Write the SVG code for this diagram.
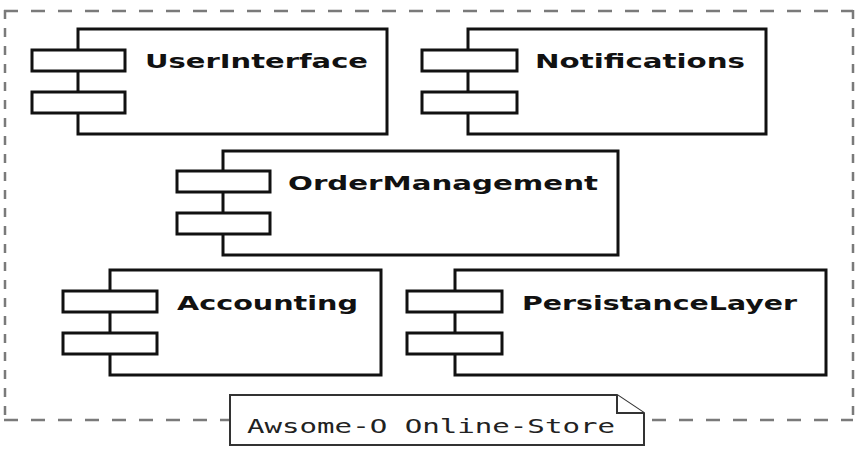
<svg xmlns="http://www.w3.org/2000/svg" width="862" height="464" viewBox="0 0 862 464">
<style>
.body{fill:#fff;stroke:#111;stroke-width:3}
.port{fill:#fff;stroke:#111;stroke-width:3}
.lbl{font-family:"DejaVu Sans",sans-serif;font-weight:bold;font-size:19px;fill:#111}
.frameh{stroke:#7a7a7a;stroke-width:2.5;stroke-dasharray:14 13;fill:none}
.framev{stroke:#7a7a7a;stroke-width:2.5;stroke-dasharray:9 9;fill:none}
.note{fill:#fff;stroke:#333;stroke-width:2}
.ntxt{font-family:"DejaVu Sans Mono",monospace;font-size:20px;fill:#222}
</style>
<rect width="862" height="464" fill="#fff"/>
<g id="frame">
<line class="frameh" x1="4" y1="11" x2="853" y2="11"/>
<line class="frameh" x1="4" y1="420" x2="853" y2="420"/>
<line class="framev" x1="5" y1="10" x2="5" y2="420"/>
<line class="framev" x1="853" y1="10" x2="853" y2="420"/>
</g>
<g id="UserInterface">
<rect class="body" x="78" y="29" width="309" height="105"/>
<rect class="port" x="32" y="50" width="93" height="21"/>
<rect class="port" x="32" y="92" width="93" height="21"/>
<text class="lbl" x="145" y="68" textLength="223" lengthAdjust="spacingAndGlyphs">UserInterface</text>
</g>
<g id="Notifications">
<rect class="body" x="468" y="29" width="298" height="105"/>
<rect class="port" x="422" y="50" width="95" height="21"/>
<rect class="port" x="422" y="92" width="95" height="21"/>
<text class="lbl" x="535" y="68" textLength="210" lengthAdjust="spacingAndGlyphs">Notifications</text>
</g>
<g id="OrderManagement">
<rect class="body" x="223" y="151" width="395" height="104"/>
<rect class="port" x="177" y="171" width="93" height="21"/>
<rect class="port" x="177" y="213" width="93" height="21"/>
<text class="lbl" x="288" y="190" textLength="310" lengthAdjust="spacingAndGlyphs">OrderManagement</text>
</g>
<g id="Accounting">
<rect class="body" x="110" y="270" width="271" height="105"/>
<rect class="port" x="63" y="291" width="94" height="21"/>
<rect class="port" x="63" y="333" width="94" height="21"/>
<text class="lbl" x="177" y="310" textLength="181" lengthAdjust="spacingAndGlyphs">Accounting</text>
</g>
<g id="PersistanceLayer">
<rect class="body" x="455" y="270" width="371" height="105"/>
<rect class="port" x="407" y="291" width="95" height="21"/>
<rect class="port" x="407" y="333" width="95" height="21"/>
<text class="lbl" x="522" y="310" textLength="275" lengthAdjust="spacingAndGlyphs">PersistanceLayer</text>
</g>
<g id="note">
<path class="note" d="M230,395 L617,395 L644,413 L644,445 L230,445 Z"/>
<path class="note" d="M617,395 L617,413 L644,413" fill="none"/>
<text class="ntxt" x="247" y="433" textLength="368" lengthAdjust="spacingAndGlyphs">Awsome-O Online-Store</text>
</g>
</svg>
